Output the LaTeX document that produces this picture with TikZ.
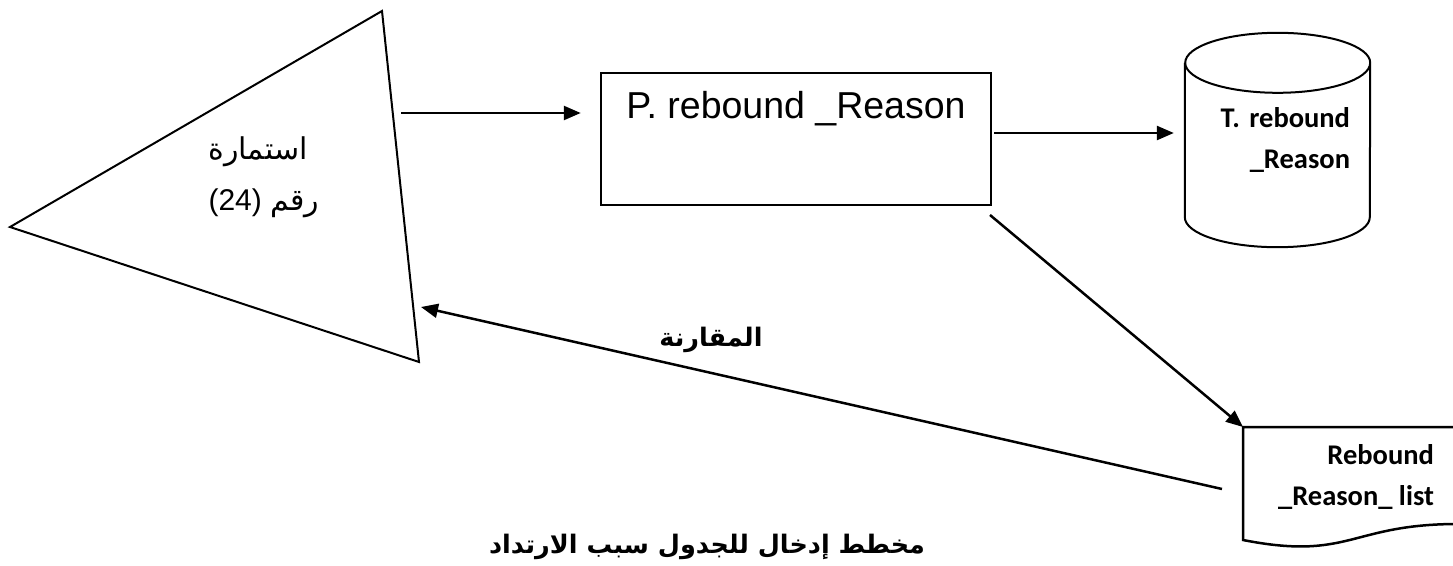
\documentclass[tikz,border=0pt]{standalone}
\usepackage{fontspec}
\setmainfont{Liberation Sans}
\newfontfamily\arabicfont[Script=Arabic]{DejaVu Sans}
\newfontfamily\calibrifont{Carlito}
\TeXXeTstate=1
\usetikzlibrary{arrows.meta,positioning,calc}

\begin{document}
\begin{tikzpicture}[x=1pt,y=-1pt,
  flow/.style={-{Triangle[length=17pt,width=14pt]},line width=2.5pt},
  proc/.style={draw,line width=2.5pt,inner sep=0pt},
  store/.style={inner sep=0pt},
  boldlatin/.style={font=\calibrifont\bfseries\fontsize{28.5}{41}\selectfont},
  boldarabic/.style={font=\arabicfont\bfseries\fontsize{25.5}{30}\selectfont}]
\useasboundingbox (0,0) rectangle (1453,565);

% Form (triangle)
\coordinate (f1) at (382,11);
\coordinate (f2) at (10,227);
\coordinate (f3) at (419,362);
\draw[line width=2pt] (f1) -- (f2) -- (f3) -- cycle;
\node[anchor=west,align=left,font=\fontsize{30}{51}\selectfont] (frm) at (205,177)
  {{\arabicfont\beginR استمارة\endR}\\\beginR{\arabicfont رقم} \beginL(24)\endL\endR};

% Process
\node[proc,minimum width=390pt,text height=45pt,text depth=87pt,
  font=\fontsize{37.5}{44}\selectfont] (prc) at (796,139) {P. rebound \_Reason};

% Table (cylinder)
\node[store,boldlatin,minimum width=185pt,minimum height=214pt,text width=145pt,align=right] (tbl) at (1277.5,140) {T. rebound\\\_Reason};
\draw[line width=2pt] ([yshift=-30pt]tbl.north west) -- ([yshift=30pt]tbl.south west)
  arc[start angle=180,end angle=360,x radius=92.5pt,y radius=30pt]
  -- ([yshift=-30pt]tbl.north east)
  arc[start angle=0,end angle=360,x radius=92.5pt,y radius=30pt];

% Report (document)
\node[store,boldlatin,align=right] (lst) at (1356,477) {Rebound\\\_Reason\_ list};
\coordinate (lstnw) at (1243,427);
\draw[line width=2.5pt] (lstnw) -- (1458,427) -- (1458,524)
  .. controls (1350,524) and (1350,561) .. (1243,540) -- cycle;

% Arrows
\coordinate (a1) at (401,113);
\coordinate (a2) at (994,133);
\coordinate (a3) at (990,215);
\coordinate (a4) at (1222,489);
\coordinate (a4e) at (421,307);
\draw[flow,shorten >=19pt] (a1) -- (a1 -| prc.west);
\draw[flow,shorten >=11pt] (a2) -- (a2 -| tbl.west);
\draw[flow] (a3) -- (lstnw);
\draw[flow] (a4) -- (a4e);

% Labels
\node[boldarabic] (cmp) at (711,340) {\beginR المقارنة\endR};
\node[boldarabic] (ttl) at (707,547) {\beginR مخطط إدخال للجدول سبب الارتداد\endR};
\end{tikzpicture}
\end{document}
